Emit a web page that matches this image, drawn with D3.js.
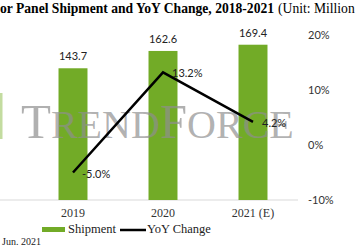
<!DOCTYPE html>
<html>
<head>
<meta charset="utf-8">
<title>Panel Shipment and YoY Change</title>
<script src="https://cdn.jsdelivr.net/npm/d3@7"></script>
<style>
  body { margin: 0; background: #fff; }
  svg { display: block; }
</style>
</head>
<body>
<div id="chart"></div>
<script>
const width = 359, height = 250;

// data
const years = ["2019", "2020", "2021 (E)"];
const shipment = [143.7, 162.6, 169.4];
const yoy = [-5.0, 13.2, 4.2];
const yoyTicks = [-10, 0, 10, 20];

const green = "#72ab27";

const svg = d3.select("#chart").append("svg")
  .attr("width", width)
  .attr("height", height);

const x = d3.scaleBand().domain(years).range([28, 298]).paddingInner(0.678).paddingOuter(0.339);
const y = d3.scaleLinear().domain([0, 180]).range([200, 35]);
const y2 = d3.scaleLinear().domain([-10, 20]).range([200, 35]);

// title (cropped on the left in the original)
const title = svg.append("text")
  .attr("x", 0).attr("y", 13)
  .style("font-family", "'Liberation Serif', serif")
  .style("font-size", "13.6px");
title.append("tspan").style("font-weight", "bold")
  .text("or Panel Shipment and YoY Change, 2018-2021");
title.append("tspan").attr("dx", 4).text("(Unit: Million");

// baseline
svg.append("line")
  .attr("x1", 0).attr("x2", 298)
  .attr("y1", 200).attr("y2", 200)
  .attr("stroke", "#d9d9d9").attr("stroke-width", 1);

// bars
svg.selectAll("rect.bar")
  .data(years)
  .enter().append("rect")
  .attr("class", "bar")
  .attr("x", d => x(d))
  .attr("width", x.bandwidth())
  .attr("y", (d, i) => y(shipment[i]))
  .attr("height", (d, i) => 200 - y(shipment[i]))
  .attr("fill", green);

svg.selectAll("text.barlab")
  .data(years)
  .enter().append("text")
  .attr("class", "barlab")
  .attr("x", d => x(d) + x.bandwidth() / 2)
  .attr("y", (d, i) => y(shipment[i]) - 8)
  .attr("text-anchor", "middle")
  .style("font-family", "Lato, sans-serif")
  .style("font-size", "11px")
  .attr("fill", "#222")
  .text((d, i) => shipment[i].toFixed(1));

// watermark
svg.append("rect")
  .attr("x", 0).attr("y", 93).attr("width", 2.5).attr("height", 46)
  .attr("fill", "#c3dca0");
const wm = svg.append("text")
  .attr("x", 21).attr("y", 138)
  .style("font-family", "'Liberation Serif', serif")
  .attr("fill", "#8f8f8f")
  .attr("fill-opacity", 0.7);
wm.append("tspan").style("font-size", "49px").text("T");
wm.append("tspan").style("font-size", "40px").text("REND");
wm.append("tspan").style("font-size", "49px").text("F");
wm.append("tspan").style("font-size", "40px").text("ORCE");

// yoy line
const line = d3.line()
  .x((d, i) => x(years[i]) + x.bandwidth() / 2)
  .y(d => y2(d));

svg.append("path")
  .datum(yoy)
  .attr("d", line)
  .attr("fill", "none")
  .attr("stroke", "#000")
  .attr("stroke-width", 2.5);

svg.selectAll("text.yoylab")
  .data(yoy)
  .enter().append("text")
  .attr("class", "yoylab")
  .attr("x", (d, i) => x(years[i]) + x.bandwidth() / 2 + 9)
  .attr("y", d => y2(d) + 5)
  .style("font-family", "Lato, sans-serif")
  .style("font-size", "11px")
  .attr("fill", "#222")
  .text(d => d.toFixed(1) + "%");

// right axis labels
svg.selectAll("text.rtick")
  .data(yoyTicks)
  .enter().append("text")
  .attr("class", "rtick")
  .attr("x", 308)
  .attr("y", d => y2(d) + 4)
  .style("font-family", "Lato, sans-serif")
  .style("font-size", "11px")
  .attr("fill", "#333")
  .text(d => d + "%");

// x labels
svg.selectAll("text.xlab")
  .data(years)
  .enter().append("text")
  .attr("class", "xlab")
  .attr("x", d => x(d) + x.bandwidth() / 2)
  .attr("y", 217)
  .attr("text-anchor", "middle")
  .style("font-family", "'Liberation Serif', serif")
  .style("font-size", "12px")
  .attr("fill", "#333")
  .text(d => d);

// legend
svg.append("rect")
  .attr("x", 42).attr("y", 227).attr("width", 23).attr("height", 5)
  .attr("fill", green);
svg.append("text")
  .attr("x", 68).attr("y", 233)
  .style("font-family", "'Liberation Serif', serif")
  .style("font-size", "12.5px")
  .attr("fill", "#222")
  .text("Shipment");
svg.append("line")
  .attr("x1", 120).attr("x2", 146)
  .attr("y1", 230).attr("y2", 230)
  .attr("stroke", "#000").attr("stroke-width", 2.5);
svg.append("text")
  .attr("x", 147).attr("y", 233)
  .style("font-family", "'Liberation Serif', serif")
  .style("font-size", "12.5px")
  .attr("fill", "#222")
  .text("YoY Change");

svg.append("text")
  .attr("x", 2).attr("y", 245)
  .style("font-family", "'Liberation Serif', serif")
  .style("font-size", "10px")
  .attr("fill", "#222")
  .text("Jun. 2021");
</script>
</body>
</html>
